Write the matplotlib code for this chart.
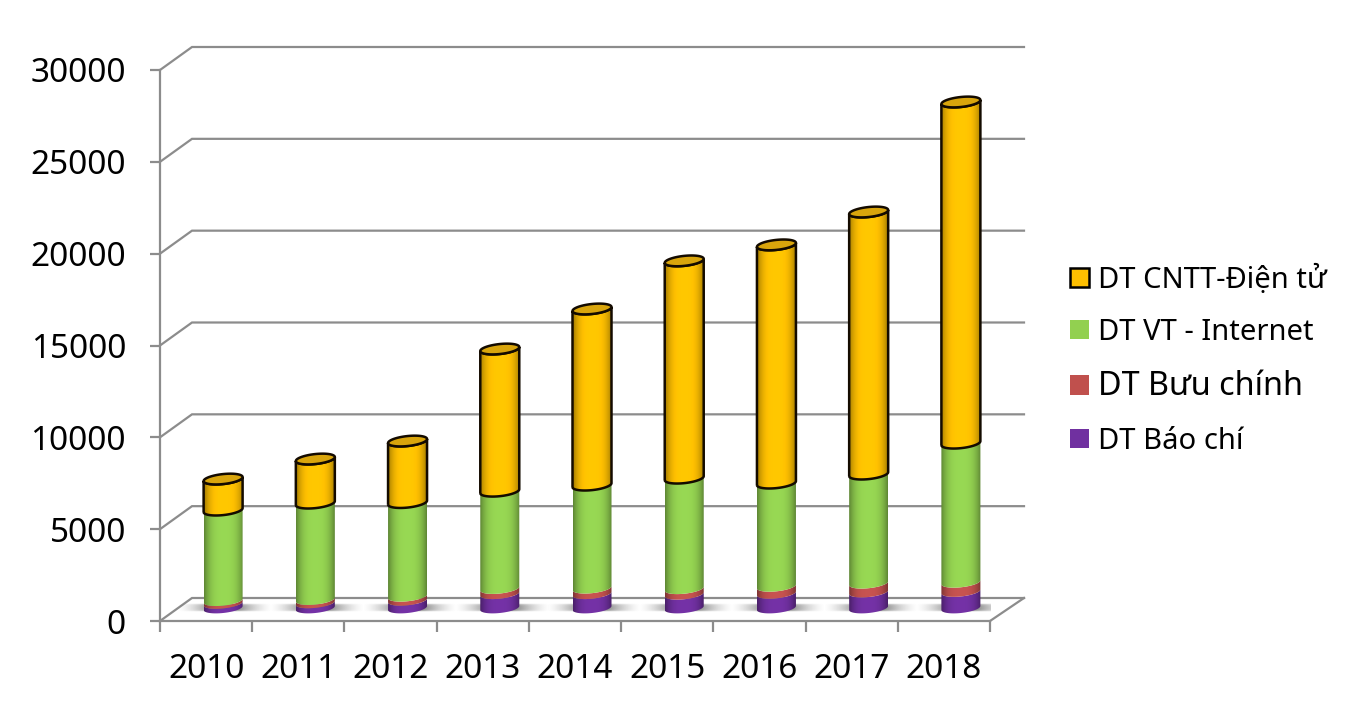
import numpy as np
import matplotlib
matplotlib.use('Agg')
import matplotlib.pyplot as plt
from matplotlib.patches import Patch, PathPatch
from matplotlib.path import Path

plt.rcParams['font.family'] = ['Noto Sans', 'DejaVu Sans']

years = ['2010', '2011', '2012', '2013', '2014', '2015', '2016', '2017', '2018']
bao_chi = [250, 280, 420, 780, 780, 750, 800, 870, 900]
buu_chinh = [150, 180, 220, 280, 300, 300, 380, 480, 500]
vt_internet = [4930, 5250, 5100, 5300, 5610, 6020, 5620, 5940, 7575]
cntt = [1690, 2400, 3350, 7740, 9590, 11830, 12970, 14270, 18575]

series = [bao_chi, buu_chinh, vt_internet, cntt]
labels = ['DT Báo chí', 'DT Bưu chính', 'DT VT - Internet', 'DT CNTT-Điện tử']
colors = ['#7030A0', '#C0504D', '#92D050', '#FFC000']
yticks = [0, 5000, 10000, 15000, 20000, 25000, 30000]
GREY = '#8C8C8C'

W, H = 1354, 716
fig = plt.figure(figsize=(W / 100, H / 100), dpi=100)
ax = fig.add_axes([160 / W, (H - 621) / H, 830 / W, 551 / H])
ax.set_facecolor('none')
ax.set_xlim(0, 9)
ax.set_ylim(0, 30000)

# size of one pixel in data units
PX = 9 / 830
PY = 30000 / 551

# depth of the fake 3d box
dx = 32 * PX
dy = 23 * PY
right = 9 + dx + 2 * PX

for v in yticks:
    ax.plot([0, dx, right], [v, v + dy, v + dy], color=GREY, lw=1.6,
            clip_on=False, zorder=1, solid_joinstyle='miter')
ax.plot([9, right], [0, dy], color=GREY, lw=1.6, clip_on=False, zorder=1)

for s in ['top', 'right']:
    ax.spines[s].set_visible(False)
for s in ['left', 'bottom']:
    ax.spines[s].set_color(GREY)
    ax.spines[s].set_linewidth(1.6)

ax.set_yticks(yticks)
ax.set_yticklabels([str(v) for v in yticks])
ax.set_xticks(range(10))
ax.set_xticklabels([])
ax.set_xticks(np.arange(9) + 0.5, years, minor=True)
ax.tick_params(axis='y', length=7.5, width=1.6, color=GREY, labelsize=24, pad=17, labelcolor='black')
ax.tick_params(axis='x', which='major', length=8, width=1.6, color=GREY)
ax.tick_params(axis='x', which='minor', length=0, labelsize=24, pad=23, labelcolor='black')
for lab in ax.get_yticklabels():
    lab.set_verticalalignment('center_baseline')

# bars sit halfway back in the box
off_x = 17 * PX
base = 13 * PY
a = 19.5 * PX
b = 5 * PY
tilt = 2 * PY
t_front = np.linspace(np.pi, 2 * np.pi, 40)
t_all = np.linspace(0, 2 * np.pi, 80)


def shaded(color, amount=0.4):
    rgb = np.array(matplotlib.colors.to_rgb(color))
    u = np.linspace(-1, 1, 120)
    f = 1.04 - amount * np.abs(u) ** 3
    return np.clip(f[:, None] * rgb, 0, 1)[None, :, :]


def arc(cx, cy, t):
    return cx + a * np.cos(t), cy + b * np.sin(t) + tilt * np.cos(t)


def segment(cx, y0, y1, color, z, edge):
    x_low, y_low = arc(cx, y0, t_front)
    x_up, y_up = arc(cx, y1, t_front[::-1])
    pts = np.column_stack([np.r_[x_low, x_up], np.r_[y_low, y_up]])
    pts = np.vstack([pts, pts[0]])
    if edge:
        patch = PathPatch(Path(pts), fc='none', ec='#140b00', lw=1.8, zorder=z + 0.5,
                          transform=ax.transData, clip_on=False)
    else:
        patch = PathPatch(Path(pts), fc='none', ec='none', zorder=z + 0.5,
                          transform=ax.transData, clip_on=False)
    ax.add_patch(patch)
    im = ax.imshow(shaded(color), extent=[cx - a, cx + a, y0 - 2 * b, y1 + 2 * b],
                   aspect='auto', zorder=z, interpolation='bilinear')
    im.set_clip_path(patch)


cum = np.cumsum(np.array(series, dtype=float), axis=0)

# soft shadow on the floor next to each bar
for i in range(len(years)):
    cx = i + 0.5 + off_x
    u = np.linspace(-1, 1, 100)
    w = np.linspace(-1, 1, 12)
    rgba = np.zeros((12, 100, 4))
    rgba[:, :, :3] = 0.3
    rgba[:, :, 3] = np.outer(1 - w ** 4, np.clip(1.25 * (1 - np.abs(u)) ** 1.5, 0, 1)) * 0.85
    ax.imshow(rgba, extent=[cx - 46 * PX, cx + 50 * PX, base - 4 * PY, base + 5 * PY],
              aspect='auto', zorder=2, interpolation='bilinear')

for i in range(len(years)):
    cx = i + 0.5 + off_x
    low = base
    for k, color in enumerate(colors):
        up = base + cum[k, i]
        segment(cx, low, up, color, 3 + k, k == 3)
        low = up
    # lid of the cylinder
    x_top, y_top = arc(cx, low, t_all)
    ax.fill(x_top, y_top, fc='#D9A50C', ec='#140b00', lw=1.8, zorder=8, clip_on=False)

ax.set_xlim(0, 9)
ax.set_ylim(0, 30000)

handles = [Patch(fc=colors[3], ec='black', lw=1.8), Patch(fc=colors[2]), Patch(fc=colors[1]), Patch(fc=colors[0])]
leg = fig.legend(handles, labels[::-1], loc='center left', bbox_to_anchor=(1044 / W, (H - 360) / H),
                 frameon=False, fontsize=21, handlelength=0.65, handleheight=0.65,
                 handletextpad=0.3, labelspacing=0.8)
sizes = [21, 21, 23.3, 21]
for txt, size in zip(leg.get_texts(), sizes):
    txt.set_fontsize(size)

fig.savefig('out.png', dpi=100)
